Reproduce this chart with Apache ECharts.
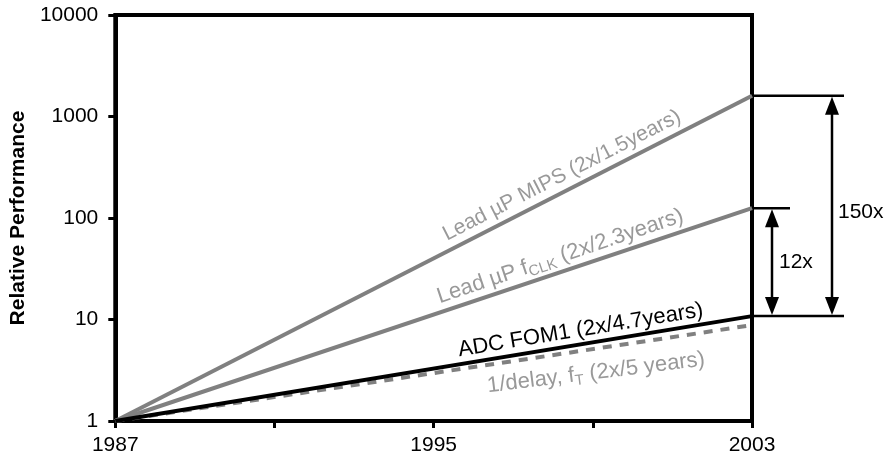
<!DOCTYPE html>
<html><head><meta charset="utf-8">
<script src="https://cdn.jsdelivr.net/npm/echarts@6/dist/echarts.min.js"></script>
<style>html,body{margin:0;padding:0;background:#fff}#c{width:892px;height:466px}</style>
</head><body><div id="c"></div>
<script>
// ---- data ----
const years = [1987, 2003];
const mips = [1, 1600];     // Lead uP MIPS (2x/1.5years)
const fclk = [1, 125];      // Lead uP fCLK (2x/2.3years)
const adc = [1, 10.8];      // ADC FOM1 (2x/4.7years)
const delay = [1, 8.8];     // 1/delay, fT (2x/5 years)
const xTicks = [1987, 1991, 1995, 1999, 2003];
const xLabels = [1987, 1995, 2003];

const FONT = 'Liberation Sans, Arial, sans-serif';
const GRAY = '#808080';
const TGRAY = '#999999';

const chart = echarts.init(document.getElementById('c'), null, {renderer: 'canvas'});
const pairs = a => years.map((y, i) => [y, a[i]]);

const option = {
  animation: false,
  grid: {left: 115, right: 140, top: 15, bottom: 45, show: true, borderColor: '#000', borderWidth: 4, containLabel: false},
  xAxis: {
    type: 'value', min: 1987, max: 2003,
    axisLine: {show: true, lineStyle: {color: '#000', width: 4}},
    axisTick: {show: true, customValues: xTicks, length: 7, inside: false, lineStyle: {color: '#000', width: 3}},
    axisLabel: {customValues: xLabels, color: '#000', fontSize: 21, fontFamily: FONT, margin: 14, formatter: v => String(v)},
    splitLine: {show: false}
  },
  yAxis: {
    type: 'log', logBase: 10, min: 1, max: 10000,
    name: 'Relative Performance', nameLocation: 'middle', nameGap: 86, nameRotate: 90,
    nameTextStyle: {color: '#000', fontSize: 21, fontWeight: 'bold', fontFamily: FONT},
    axisLine: {show: true, lineStyle: {color: '#000', width: 4}},
    axisTick: {show: true, length: 7, lineStyle: {color: '#000', width: 3}},
    axisLabel: {color: '#000', fontSize: 21, fontFamily: FONT, margin: 17, formatter: v => String(Math.round(v))},
    splitLine: {show: false}, minorTick: {show: false}
  },
  series: [
    {name: 'MIPS', type: 'line', data: pairs(mips), symbol: 'none', lineStyle: {color: GRAY, width: 4}, z: 3},
    {name: 'fCLK', type: 'line', data: pairs(fclk), symbol: 'none', lineStyle: {color: GRAY, width: 4}, z: 3},
    {name: '1/delay', type: 'line', data: pairs(delay), symbol: 'none', lineStyle: {color: GRAY, width: 4, type: [9, 8]}, z: 3},
    {name: 'ADC', type: 'line', data: pairs(adc), symbol: 'none', lineStyle: {color: '#000', width: 4}, z: 4}
  ]
};
chart.setOption(option);

function px(x, y) { return chart.convertToPixel({gridIndex: 0}, [x, y]); }
function lineAt(arr, x) {
  const p0 = px(years[0], arr[0]), p1 = px(years[1], arr[1]);
  const xp = px(x, 1)[0];
  const t = (xp - p0[0]) / (p1[0] - p0[0]);
  return {x: xp, y: p0[1] + t * (p1[1] - p0[1]), ang: Math.atan2(p0[1] - p1[1], p1[0] - p0[0])};
}
const elements = [];
function label(arr, xAt, rich, text, fill, above, gap, size, dAng) {
  const p = lineAt(arr, xAt);
  const s = above ? -1 : 1;
  const ang = p.ang + (dAng || 0) * Math.PI / 180;
  elements.push({
    type: 'text', x: p.x + s * Math.sin(p.ang) * gap, y: p.y + s * Math.cos(p.ang) * gap,
    rotation: ang, z: 10,
    style: {text: text, rich: rich, fill: fill, fontSize: size, fontFamily: FONT,
      align: 'center', verticalAlign: above ? 'bottom' : 'top'}
  });
}
const sub = c => ({sub: {fontSize: 15, fontFamily: FONT, fill: c, padding: [11, 0, 0, 0]}});
label(mips, 1998.4, null, 'Lead µP MIPS (2x/1.5years)', TGRAY, true, 5, 21);
label(fclk, 1998.3, sub(TGRAY), 'Lead µP f{sub|CLK} (2x/2.3years)', TGRAY, true, 2, 22);
label(adc, 1998.75, null, 'ADC FOM1 (2x/4.7years)', '#000', true, 3, 22);
label(delay, 1999.0, sub(TGRAY), '1/delay, f{sub|T} (2x/5 years)', TGRAY, false, 11, 22, -1.5);

// annotation arrows on the right
const pTop = px(2003, mips[1]), pMid = px(2003, fclk[1]), pBot = px(2003, adc[1]);
const R = pTop[0];
function hline(y, x2) { elements.push({type: 'line', shape: {x1: R, y1: y, x2: x2, y2: y}, style: {stroke: '#000', lineWidth: 2.5}}); }
hline(pTop[1], R + 92); hline(pMid[1], R + 38); hline(pBot[1], R + 92);
function arrow(x, y1, y2) {
  const h = 18, w = 7;
  elements.push({type: 'line', shape: {x1: x, y1: y1 + h, x2: x, y2: y2 - h}, style: {stroke: '#000', lineWidth: 2.5}});
  elements.push({type: 'polygon', shape: {points: [[x, y1 + 1], [x - w, y1 + h + 1], [x + w, y1 + h + 1]]}, style: {fill: '#000'}});
  elements.push({type: 'polygon', shape: {points: [[x, y2 - 1], [x - w, y2 - h - 1], [x + w, y2 - h - 1]]}, style: {fill: '#000'}});
}
arrow(R + 20, pMid[1], pBot[1]);
arrow(R + 80, pTop[1], pBot[1]);
elements.push({type: 'text', x: R + 27, y: (pMid[1] + pBot[1]) / 2, style: {text: '12x', fill: '#000', fontSize: 21, fontFamily: FONT, verticalAlign: 'middle', align: 'left'}});
elements.push({type: 'text', x: R + 86, y: (pTop[1] + pBot[1]) / 2 + 6, style: {text: '150x', fill: '#000', fontSize: 21, fontFamily: FONT, verticalAlign: 'middle', align: 'left'}});

chart.setOption({graphic: {elements: elements}});
</script></body></html>
